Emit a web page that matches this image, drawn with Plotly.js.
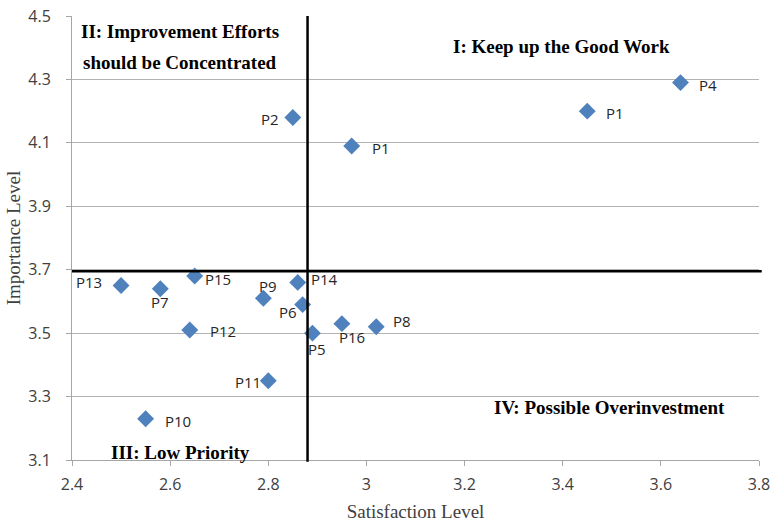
<!DOCTYPE html>
<html>
<head>
<meta charset="utf-8">
<script src="https://cdn.plot.ly/plotly-3.0.1.min.js"></script>
<style>html,body{margin:0;padding:0;background:#fff}#chart{width:771px;height:522px}</style>
</head>
<body>
<div id="chart"></div>
<script>
var names = ["P2","P1","P1","P4","P13","P7","P15","P9","P14","P6","P12","P5","P16","P8","P11","P10"];
var satisfaction = [2.85,2.97,3.45,3.64,2.50,2.58,2.65,2.79,2.86,2.87,2.64,2.89,2.95,3.02,2.80,2.55];
var importance = [4.18,4.09,4.20,4.29,3.65,3.64,3.68,3.61,3.66,3.59,3.51,3.50,3.53,3.52,3.35,3.23];
var xTicks = [2.4,2.6,2.8,3.0,3.2,3.4,3.6,3.8];
var xTickText = ["2.4","2.6","2.8","3","3.2","3.4","3.6","3.8"];
var yTicks = [3.1,3.3,3.5,3.7,3.9,4.1,4.3,4.5];
var yTickText = ["3.1","3.3","3.5","3.7","3.9","4.1","4.3","4.5"];
var satThreshold = 2.88;
var impThreshold = 3.695;
var quadrantLines = ["II: Improvement Efforts","should be Concentrated","I: Keep up the Good Work","III: Low Priority","IV: Possible Overinvestment"];

// label offsets in pixels (dx, dy downwards)
var labelOffsets = [[-23,2],[29,2],[28,2],[28,2],[-32,-4],[0,13],[23,3],[5,-12],[27,-3],[-15,7],[33,1],[5,16],[10,13],[26,-6],[-20,1],[32,2]];

var annotations = names.map(function(n,i){
  return {x: satisfaction[i], y: importance[i], xref:'x', yref:'y', text:n, showarrow:false,
    xanchor:'center', yanchor:'middle',
    xshift: labelOffsets[i][0], yshift: -labelOffsets[i][1],
    font:{family:'Open Sans, sans-serif', size:15, color:'#262626'}};
});
var qPos = [[180,32],[180,62],[561,47],[180,452],[609,407]];
quadrantLines.forEach(function(t,i){
  annotations.push({xref:'paper', yref:'paper', x:(qPos[i][0]-72)/687, y:1-(qPos[i][1]-16)/444,
    xanchor:'center', yanchor:'middle',
    text:'<b>'+t+'</b>', showarrow:false, align:'center',
    font:{family:'Liberation Serif, Times New Roman, serif', size:19, color:'#000'}});
});

var trace = {x: satisfaction, y: importance, mode:'markers', type:'scatter',
  marker:{symbol:'diamond', size:13, color:'#4F81BD'}, hoverinfo:'none'};

var layout = {
  width:771, height:522,
  margin:{l:72, r:12, t:16, b:62},
  paper_bgcolor:'#fff', plot_bgcolor:'#fff',
  showlegend:false,
  xaxis:{range:[2.4,3.8], tickvals:xTicks, ticktext:xTickText, showgrid:false, zeroline:false,
    showline:true, linecolor:'#a6a6a6', linewidth:1, ticks:'outside', ticklen:5, tickcolor:'#a6a6a6',
    ticklabelstandoff:5,
    tickfont:{family:'Open Sans, sans-serif', size:16, color:'#404040'},
    title:{text:'Satisfaction Level', standoff:11, font:{family:'Liberation Serif, Times New Roman, serif', size:19, color:'#404040'}}},
  yaxis:{range:[3.1,4.5], tickvals:yTicks, ticktext:yTickText, showgrid:true, gridcolor:'#b3b3b3', gridwidth:1, zeroline:false,
    showline:true, linecolor:'#a6a6a6', linewidth:1, ticks:'outside', ticklen:5, tickcolor:'#a6a6a6',
    ticklabelstandoff:12,
    tickfont:{family:'Open Sans, sans-serif', size:16, color:'#404040'},
    title:{text:'Importance Level', standoff:2, font:{family:'Liberation Serif, Times New Roman, serif', size:19, color:'#404040'}}},
  shapes:[
    {type:'line', xref:'x', yref:'paper', x0:satThreshold, x1:satThreshold, y0:-0.004, y1:1, line:{color:'#000', width:2.5}},
    {type:'line', xref:'paper', yref:'y', x0:0, x1:1.004, y0:impThreshold, y1:impThreshold, line:{color:'#000', width:2.5}}
  ],
  annotations: annotations
};
Plotly.newPlot('chart',[trace],layout,{staticPlot:true});
</script>
</body>
</html>
